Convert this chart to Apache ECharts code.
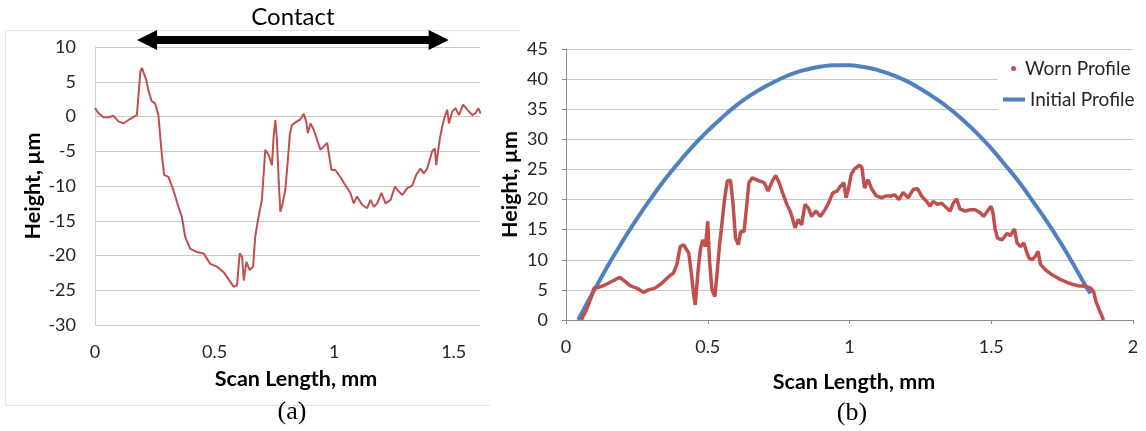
<!DOCTYPE html>
<html>
<head>
<meta charset="utf-8">
<script src="https://cdn.jsdelivr.net/npm/echarts@6/dist/echarts.min.js"></script>
<style>
  html, body { margin: 0; padding: 0; background: #ffffff; }
  #chart { width: 1146px; height: 431px; }
</style>
</head>
<body>
<div id="chart"></div>
<script>
// ---- (a) surface profile across the wear scar ----
const aScan = [0, 0.014, 0.035, 0.056, 0.077, 0.098, 0.119, 0.140, 0.161, 0.175, 0.182, 0.190, 0.196, 0.203,
  0.214, 0.223, 0.237, 0.251, 0.265, 0.279, 0.289, 0.307, 0.328, 0.349, 0.363, 0.377, 0.398, 0.426, 0.454,
  0.482, 0.510, 0.538, 0.566, 0.580, 0.594, 0.605, 0.615, 0.622, 0.633, 0.647, 0.661, 0.670, 0.684, 0.698,
  0.712, 0.726, 0.740, 0.747, 0.754, 0.761, 0.768, 0.775, 0.785, 0.796, 0.806, 0.815, 0.824, 0.845, 0.859,
  0.873, 0.883, 0.890, 0.901, 0.915, 0.929, 0.943, 0.957, 0.971, 0.980, 0.989, 1.005, 1.026, 1.047, 1.068,
  1.082, 1.096, 1.117, 1.138, 1.152, 1.166, 1.180, 1.198, 1.215, 1.236, 1.254, 1.271, 1.285, 1.306, 1.327,
  1.343, 1.361, 1.375, 1.389, 1.410, 1.421, 1.427, 1.441, 1.452, 1.463, 1.473, 1.480, 1.494, 1.508, 1.522,
  1.539, 1.557, 1.578, 1.592, 1.603, 1.613];
const aHeight = [1.2, 0.5, -0.1, -0.1, 0.1, -0.7, -1.0, -0.5, -0.1, 0.2, 0.3, 6.5, 7.0, 7.1,
  5.3, 3.8, 2.2, 1.9, 0.2, -5.3, -8.4, -8.7, -10.6, -13.0, -14.4, -17.3, -19.0, -19.5, -19.7,
  -21.2, -21.6, -22.4, -23.8, -24.5, -24.3, -19.7, -20.2, -23.6, -20.9, -22.1, -21.6, -17.3, -14.4, -12.0,
  -4.8, -5.5, -7.0, -2.9, -0.5, -3.4, -9.1, -13.7, -12.5, -10.5, -6.5, -2.5, -1.2, -0.7, -0.4,
  0.4, -0.7, -2.4, -1.0, -1.9, -3.4, -4.8, -4.3, -3.8, -5.8, -7.7, -7.7, -8.7, -9.9, -11.0,
  -12.5, -11.5, -12.7, -13.2, -12.0, -13.0, -12.5, -11.0, -12.5, -12.0, -10.1, -10.8, -11.3, -10.3, -9.9,
  -8.4, -7.5, -8.2, -7.5, -5.0, -4.6, -7.0, -3.4, -1.4, 0.0, 1.0, -1.0, 0.7, 1.2, 0.2,
  1.7, 1.0, 0.2, 0.5, 1.2, 0.4];
const aXRange = [0, 1.61];
const aYRange = [-30, 10];
const contactSpan = [0.176, 1.479];

// ---- (b) worn profile against the initial crown ----
const bScan = [0.054, 0.072, 0.090, 0.099, 0.113, 0.137, 0.161, 0.190, 0.208, 0.226, 0.249, 0.273, 0.291,
  0.314, 0.338, 0.362, 0.379, 0.391, 0.403, 0.415, 0.433, 0.442, 0.450, 0.456, 0.466, 0.474, 0.482, 0.492,
  0.500, 0.506, 0.515, 0.525, 0.533, 0.541, 0.551, 0.560, 0.569, 0.580, 0.589, 0.598, 0.608, 0.616, 0.628,
  0.636, 0.645, 0.657, 0.663, 0.681, 0.699, 0.713, 0.728, 0.740, 0.752, 0.764, 0.779, 0.793, 0.808, 0.819,
  0.831, 0.843, 0.855, 0.866, 0.882, 0.897, 0.911, 0.926, 0.941, 0.956, 0.968, 0.980, 0.988, 0.996, 1.006,
  1.018, 1.035, 1.044, 1.053, 1.065, 1.079, 1.095, 1.112, 1.130, 1.148, 1.160, 1.174, 1.189, 1.207, 1.225,
  1.240, 1.254, 1.272, 1.284, 1.295, 1.311, 1.325, 1.343, 1.355, 1.366, 1.378, 1.390, 1.408, 1.426, 1.443,
  1.461, 1.473, 1.487, 1.499, 1.506, 1.514, 1.522, 1.538, 1.556, 1.567, 1.582, 1.591, 1.603, 1.615, 1.624,
  1.633, 1.644, 1.656, 1.665, 1.674, 1.692, 1.715, 1.745, 1.774, 1.804, 1.833, 1.851, 1.861, 1.869, 1.881,
  1.896];
const bHeight = [0.0, 1.7, 3.9, 5.3, 5.4, 5.8, 6.4, 7.1, 6.4, 5.7, 5.3, 4.6, 5.0,
  5.3, 6.1, 7.2, 7.8, 9.2, 12.2, 12.5, 11.1, 7.8, 4.4, 2.5, 8.3, 11.7, 13.3, 12.2,
  16.4, 10.0, 5.0, 3.9, 7.8, 12.2, 16.4, 20.3, 23.1, 23.2, 19.4, 13.6, 12.5, 14.7, 14.7,
  18.3, 22.8, 23.6, 23.6, 23.1, 22.8, 21.4, 23.1, 24.0, 22.8, 21.1, 19.2, 17.8, 15.3, 16.7,
  15.8, 19.2, 18.6, 17.2, 18.1, 17.2, 18.1, 19.4, 21.1, 21.4, 22.2, 22.8, 20.3, 21.7, 24.2,
  25.1, 25.7, 25.3, 21.9, 23.3, 21.7, 20.6, 20.3, 20.6, 20.6, 20.8, 20.0, 21.2, 20.3, 21.7,
  21.8, 20.6, 19.7, 18.9, 19.7, 19.2, 19.4, 18.6, 18.1, 19.4, 20.1, 18.4, 18.1, 18.3, 18.3,
  17.8, 17.2, 18.1, 18.9, 17.8, 15.0, 13.6, 13.3, 14.4, 14.0, 15.1, 12.8, 12.2, 12.8, 11.4,
  10.3, 10.0, 10.6, 11.4, 9.2, 8.3, 7.5, 6.7, 6.1, 5.7, 5.6, 5.3, 4.7, 3.1, 1.7,
  0.0];
const initScan = [0.043, 0.08, 0.12, 0.16, 0.20, 0.25, 0.30, 0.35, 0.40, 0.45, 0.50, 0.55, 0.60, 0.65,
  0.70, 0.75, 0.80, 0.85, 0.90, 0.95, 0.97, 1.00, 1.05, 1.10, 1.15, 1.20, 1.25, 1.30, 1.35, 1.40,
  1.45, 1.50, 1.55, 1.60, 1.65, 1.70, 1.75, 1.80, 1.83, 1.85];
const initHeight = [0.0, 3.3, 6.7, 10.0, 13.1, 16.8, 20.2, 23.4, 26.3, 29.0, 31.4, 33.6, 35.6, 37.3,
  38.7, 39.9, 40.9, 41.6, 42.1, 42.3, 42.3, 42.3, 42.0, 41.5, 40.7, 39.7, 38.4, 36.9, 35.2, 33.2,
  31.0, 28.5, 25.7, 22.8, 19.5, 16.1, 12.4, 8.4, 5.9, 4.4];
const bXRange = [0, 2];
const bYRange = [0, 45];

const seriesNames = ['Worn Profile', 'Initial Profile'];
const wornColor = '#c0504d';
const initColor = '#4f81bd';

const pairs = (xs, ys) => xs.map((x, i) => [x, ys[i]]);

const tickFont = { fontFamily: 'Lato', fontSize: 18, color: '#262626' };
const titleFont = { fontFamily: 'Lato', fontSize: 21.5, fontWeight: 'bold', color: '#000000' };
const legendFont = { fontFamily: 'Lato', fontSize: 19, color: '#262626' };
const gridLine = { show: true, lineStyle: { color: '#c9c9c9', width: 1 } };

const chart = echarts.init(document.getElementById('chart'), null, { renderer: 'canvas' });

chart.setOption({
  animation: false,
  backgroundColor: '#ffffff',
  grid: [
    { left: 95, top: 47, width: 385, height: 278, containLabel: false },
    { left: 566, top: 49, width: 567, height: 271, containLabel: false }
  ],
  xAxis: [
    {
      type: 'value', gridIndex: 0, min: aXRange[0], max: aXRange[1], interval: 0.5,
      name: 'Scan Length, mm', nameLocation: 'middle', nameGap: 43,
      nameTextStyle: Object.assign({ padding: [0, 0, 0, 17] }, titleFont),
      axisLine: { show: false }, axisTick: { show: false }, splitLine: { show: false },
      axisLabel: Object.assign({ margin: 18, showMaxLabel: false }, tickFont)
    },
    {
      type: 'value', gridIndex: 1, min: bXRange[0], max: bXRange[1], interval: 0.5,
      name: 'Scan Length, mm', nameLocation: 'middle', nameGap: 51,
      nameTextStyle: Object.assign({ padding: [0, 0, 0, 9] }, titleFont),
      axisLine: { show: true, onZero: false, lineStyle: { color: '#8c8c8c', width: 1 } },
      axisTick: { show: true, length: 4, lineStyle: { color: '#8c8c8c' } },
      splitLine: { show: false },
      axisLabel: Object.assign({ margin: 18 }, tickFont)
    }
  ],
  yAxis: [
    {
      type: 'value', gridIndex: 0, min: aYRange[0], max: aYRange[1], interval: 5,
      name: 'Height, µm', nameLocation: 'middle', nameGap: 51, nameRotate: 90,
      nameTextStyle: titleFont,
      axisLine: { show: true, lineStyle: { color: '#d0d0d0', width: 1 } },
      axisTick: { show: false }, splitLine: gridLine,
      axisLabel: Object.assign({ margin: 19 }, tickFont)
    },
    {
      type: 'value', gridIndex: 1, min: bYRange[0], max: bYRange[1], interval: 5,
      name: 'Height, µm', nameLocation: 'middle', nameGap: 45, nameRotate: 90,
      nameTextStyle: titleFont,
      axisLine: { show: true, lineStyle: { color: '#8c8c8c', width: 1 } },
      axisTick: { show: true, length: 4, lineStyle: { color: '#8c8c8c' } },
      splitLine: gridLine,
      axisLabel: Object.assign({ margin: 18 }, tickFont)
    }
  ],
  legend: [
    {
      data: [{ name: seriesNames[0], icon: 'circle' }],
      left: 1011, top: 59, padding: 0, itemWidth: 13, itemHeight: 5,
      selectedMode: false, textStyle: legendFont
    },
    {
      data: [{ name: seriesNames[1], icon: 'rect' }],
      left: 1003, top: 90, padding: 0, itemWidth: 22, itemHeight: 4,
      selectedMode: false, textStyle: legendFont
    }
  ],
  series: [
    {
      name: 'Worn Profile (a)', type: 'line', xAxisIndex: 0, yAxisIndex: 0,
      data: pairs(aScan, aHeight), showSymbol: false, symbol: 'none',
      lineStyle: { color: wornColor, width: 2 }, itemStyle: { color: wornColor }, z: 3
    },
    {
      name: seriesNames[1], type: 'line', xAxisIndex: 1, yAxisIndex: 1, smooth: true,
      data: pairs(initScan, initHeight), showSymbol: false, symbol: 'none',
      lineStyle: { color: initColor, width: 4 }, itemStyle: { color: initColor }, z: 2
    },
    {
      name: seriesNames[0], type: 'line', xAxisIndex: 1, yAxisIndex: 1,
      data: pairs(bScan, bHeight), showSymbol: false, symbol: 'none',
      lineStyle: { color: wornColor, width: 3.5 }, itemStyle: { color: wornColor }, z: 3
    }
  ]
});

// Annotations: the contact-zone arrow spans contactSpan on the (a) scan axis
const xa = contactSpan.map(v => chart.convertToPixel({ xAxisIndex: 0 }, v));
const cy = 40, head = 20, headHalf = 10, shaftHalf = 4;
const arrowPts = [
  [xa[0], cy], [xa[0] + head, cy - headHalf], [xa[0] + head, cy - shaftHalf],
  [xa[1] - head, cy - shaftHalf], [xa[1] - head, cy - headHalf], [xa[1], cy],
  [xa[1] - head, cy + headHalf], [xa[1] - head, cy + shaftHalf],
  [xa[0] + head, cy + shaftHalf], [xa[0] + head, cy + headHalf]
];

chart.setOption({
  graphic: [
    {
      type: 'polyline', silent: true, z: 0,
      shape: { points: [[520, 30.5], [5.5, 30.5], [5.5, 405.5], [490, 405.5]] },
      style: { stroke: '#e6e6e6', lineWidth: 1, fill: null }
    },
    {
      type: 'polygon', silent: true, z: 5,
      shape: { points: arrowPts },
      style: { fill: '#000000' }
    },
    {
      type: 'text', silent: true, z: 5,
      x: (xa[0] + xa[1]) / 2, y: 17,
      style: { text: 'Contact', fontFamily: 'Lato', fontSize: 24, fill: '#000000', align: 'center', verticalAlign: 'middle' }
    },
    {
      type: 'rect', silent: true, z: 1,
      shape: { x: 998, y: 54, width: 148, height: 66 },
      style: { fill: '#ffffff' }
    },
    {
      type: 'text', silent: true, z: 5, x: 292, y: 412,
      style: { text: '(a)', fontFamily: 'Liberation Serif', fontSize: 26, fill: '#000000', align: 'center', verticalAlign: 'middle' }
    },
    {
      type: 'text', silent: true, z: 5, x: 852, y: 413,
      style: { text: '(b)', fontFamily: 'Liberation Serif', fontSize: 26, fill: '#000000', align: 'center', verticalAlign: 'middle' }
    }
  ]
});
</script>
</body>
</html>
